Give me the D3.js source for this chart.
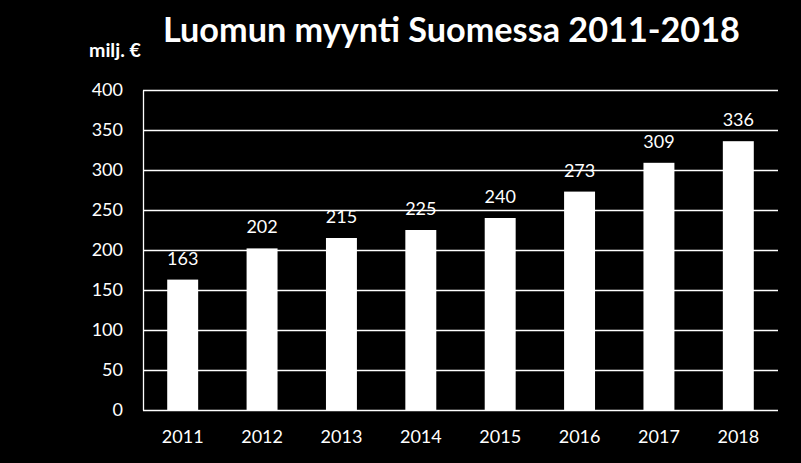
<!DOCTYPE html>
<html><head><meta charset="utf-8">
<script src="https://cdn.jsdelivr.net/npm/d3@7"></script>
<style>html,body{margin:0;padding:0;background:#000;}svg{display:block;}</style>
</head><body>
<svg id="c" width="801" height="463"></svg>
<script>
const years = ["2011","2012","2013","2014","2015","2016","2017","2018"];
const sales = [163, 202, 215, 225, 240, 273, 309, 336];
const yTicks = [0, 50, 100, 150, 200, 250, 300, 350, 400];
const titleText = "Luomun myynti Suomessa 2011-2018";
const unitText = "milj. €";

(function () {
const svg = d3.select("#c");
const W = 801, H = 463;
svg.append("rect").attr("width", W).attr("height", H).attr("fill", "#000");
const font = "Lato, 'Open Sans', sans-serif";
const pL = 143, pR = 778, pT = 90, pB = 410;

const x = d3.scaleBand().domain(years).range([pL, pR]).paddingInner(0.61).paddingOuter(0.305);
const y = d3.scaleLinear().domain([0, 400]).range([pB, pT]);

// gridlines
const grid = d3.axisLeft(y).tickValues(yTicks).tickSize(-(pR - pL)).tickFormat("");
const g = svg.append("g").attr("transform", `translate(${pL},0)`).call(grid);
g.select(".domain").remove();
g.selectAll("line").attr("stroke", "#fff").attr("stroke-width", 1.3);

// y axis labels
const ya = svg.append("g").attr("transform", `translate(${pL},0)`)
  .call(d3.axisLeft(y).tickValues(yTicks).tickSize(0).tickPadding(20));
ya.select(".domain").attr("stroke", "#fff").attr("stroke-width", 1.3);
ya.selectAll("text").attr("fill", "#fff").attr("font-family", font).attr("font-size", 18);

// x axis labels
const xa = svg.append("g").attr("transform", `translate(0,${pB})`)
  .call(d3.axisBottom(x).tickSize(0).tickPadding(20));
xa.select(".domain").remove();
xa.selectAll("text").attr("fill", "#fff").attr("font-family", font).attr("font-size", 18);

// bars
svg.append("g").selectAll("rect").data(sales).join("rect")
  .attr("x", (d, i) => x(years[i]))
  .attr("width", x.bandwidth())
  .attr("y", d => y(d))
  .attr("height", d => y(0) - y(d))
  .attr("fill", "#fff");

// value labels
svg.append("g").selectAll("text").data(sales).join("text")
  .attr("x", (d, i) => x(years[i]) + x.bandwidth() / 2)
  .attr("y", d => y(d) - 15)
  .attr("text-anchor", "middle")
  .attr("fill", "#fff").attr("font-family", font).attr("font-size", 18)
  .text(d => d);

// title
const t = svg.append("text").attr("x", 163).attr("y", 42)
  .attr("fill", "#fff").attr("font-family", font).attr("font-weight", "bold")
  .attr("font-size", 36).text(titleText);
const tw = t.node().getComputedTextLength();
t.attr("font-size", 36 * 577 / tw);

// unit
const u = svg.append("text").attr("x", 89).attr("y", 57)
  .attr("fill", "#fff").attr("font-family", font).attr("font-weight", "bold")
  .attr("font-size", 17).text(unitText);
const uw = u.node().getComputedTextLength();
u.attr("font-size", 17 * 52 / uw);
})();
</script>
</body></html>
